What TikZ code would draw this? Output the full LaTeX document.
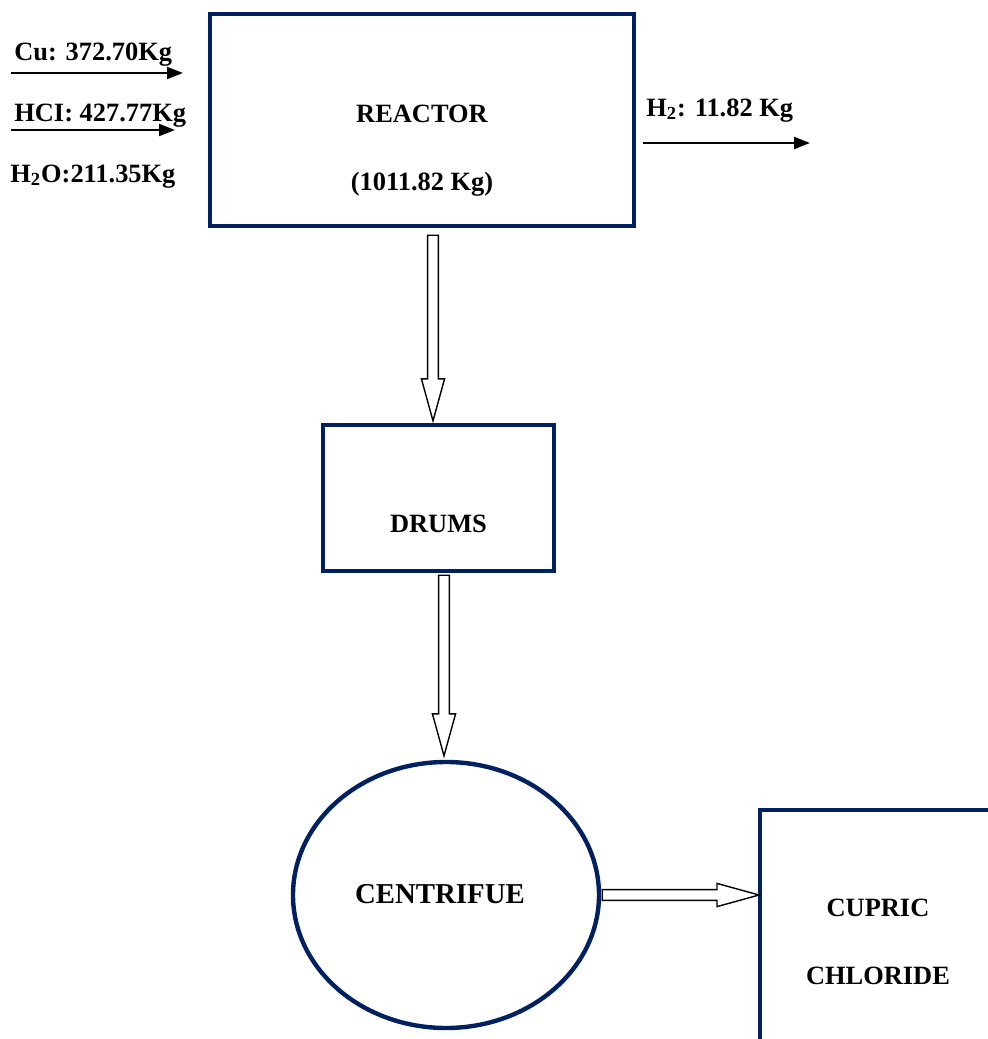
\documentclass[tikz,border=0pt]{standalone}
\usepackage{fontspec}
\setmainfont{Liberation Serif}
\usetikzlibrary{arrows.meta,calc,shapes.geometric}
\definecolor{unitblue}{RGB}{0,32,96}
\tikzset{
    unit/.style={draw=unitblue, line width=2.2pt, inner sep=0pt},
    lbl/.style={font=\fontsize{13.2}{15}\selectfont\bfseries, inner sep=0pt},
    feed/.style={line width=1pt, -{Triangle[length=8pt,width=6pt]}},
    hollow/.style={draw=black, fill=white, line width=0.7pt}
}
\newcommand{\blockarrow}[2]{%
    \draw[hollow] let \p1=(#1), \p2=(#2),
        \n1={atan2(\y2-(\y1),\x2-(\x1))}, \n2={veclen(\x2-(\x1),\y2-(\y1))} in
        {[shift={(\p1)}, rotate=\n1]
        (0pt,-2.7pt) -- (\n2-21pt,-2.7pt) -- (\n2-21pt,-5.8pt) -- (\n2,0pt)
        -- (\n2-21pt,5.8pt) -- (\n2-21pt,2.7pt) -- (0pt,2.7pt) -- cycle};}
\begin{document}
\begin{tikzpicture}[x=0.5pt, y=-0.5pt]
            \useasboundingbox (0,0) rectangle (988,1039);
            \node[unit, minimum width=212pt, minimum height=106pt] (reactor) at (422,120) {};
            \node[lbl, anchor=base] (reactorname) at (422,122) {REACTOR};
            \node[lbl, anchor=base] (reactormass) at (422,190) {(1011.82 Kg)};
            \node[unit, minimum width=115.5pt, minimum height=73pt] (drums) at (438.5,498) {};
            \node[lbl, anchor=base] (drumsname) at (438.5,532) {DRUMS};
            \node[unit, ellipse, minimum width=153pt, minimum height=133pt] (centrifue) at (446,895) {};
            \node[lbl, font=\fontsize{14.4}{16}\selectfont\bfseries, anchor=base] (centrifuename) at (440,903) {CENTRIFUE};
            \draw[draw=unitblue, line width=2.2pt] (760,1039) -- (760,810) -- (988,810);
            \node[lbl, anchor=base] (cupric) at (878,916) {CUPRIC};
            \node[lbl, anchor=base] (chloride) at (878,984) {CHLORIDE};
            \node[lbl, anchor=base west] (cu) at (14,60) {Cu: 372.70Kg};
            \node[lbl, anchor=base west] (hcl) at (14,121) {HCI: 427.77Kg};
            \node[lbl, anchor=base west] (water) at (10,182) {H\textsubscript{2}O:211.35Kg};
            \node[lbl, anchor=base west] (hydrogen) at (646,116) {H\textsubscript{2}: 11.82 Kg};
            \coordinate (cuin) at (11,73);
            \coordinate (cuend) at (183,73);
            \coordinate (hclin) at (11,130);
            \coordinate (hclend) at (175,130);
            \coordinate (hout) at (643,143);
            \coordinate (hend) at (810,143);
            \draw[feed] (cuin) -- (cuend);
            \draw[feed] (hclin) -- (hclend);
            \draw[feed] (hout) -- (hend);
            \coordinate (cupricin) at (759,895);
            \blockarrow{$(reactor.south)+(5.5pt,-3.5pt)$}{$(drums.north)+(-2.75pt,1pt)$}
            \blockarrow{$(drums.south)+(2.75pt,-1pt)$}{$(centrifue.north)+(-1pt,2pt)$}
            \blockarrow{$(centrifue.east)+(0.5pt,0pt)$}{cupricin}
        \end{tikzpicture}
\end{document}
